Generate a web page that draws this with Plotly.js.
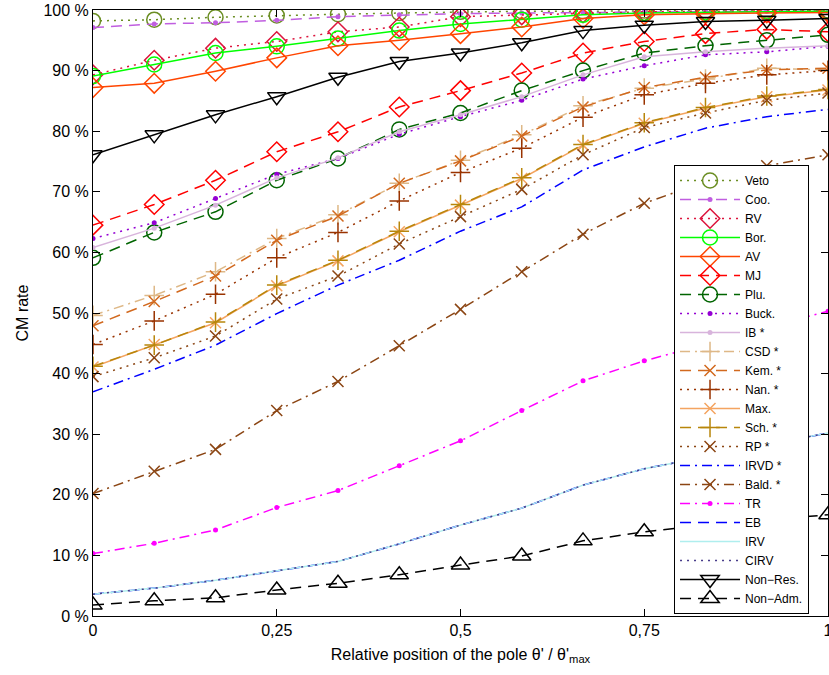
<!DOCTYPE html>
<html>
<head>
<meta charset="utf-8">
<script src="https://cdn.plot.ly/plotly-3.0.1.min.js"></script>
<style>html,body{margin:0;padding:0;background:#fff;}#chart{width:829px;height:675px;}</style>
</head>
<body>
<div id="chart"></div>
<script>
// Relative position of the pole (x positions)
const xPos = [0, 0.0833, 0.1667, 0.25, 0.3333, 0.4167, 0.5, 0.5833, 0.6667, 0.75, 0.8333, 0.9167, 1];

// CM rate (%) per voting system
const veto   = [98.2, 98.4, 98.8, 99.1, 99.3, 99.5, 99.7, 99.8, 99.8, 99.9, 99.9, 99.9, 99.9];
const coo    = [97.1, 97.7, 97.9, 98.3, 98.9, 99.2, 99.4, 99.5, 99.6, 99.7, 99.8, 99.8, 99.8];
const rv     = [89.3, 91.7, 93.7, 94.8, 96.4, 97.2, 98.9, 99.2, 99.5, 99.7, 99.8, 99.8, 99.9];
const bor    = [89.1, 91.0, 92.9, 94.0, 95.3, 96.6, 97.7, 98.4, 99.2, 99.5, 99.6, 99.7, 99.8];
const av     = [87.2, 87.9, 89.9, 92.1, 94.1, 95.0, 96.1, 97.2, 98.6, 99.2, 99.4, 99.5, 99.6];
const mj     = [64.5, 67.9, 71.9, 76.6, 79.9, 84.0, 86.7, 89.6, 92.9, 94.8, 96.1, 96.8, 96.4];
const plu    = [59.1, 63.3, 66.7, 71.9, 75.5, 80.3, 83.0, 86.7, 90.0, 92.9, 94.1, 95.0, 95.9];
const buck   = [62.3, 64.9, 68.9, 72.9, 75.5, 79.5, 82.4, 85.1, 88.6, 90.8, 92.6, 93.1, 94.0];
const ib     = [60.8, 64.0, 67.8, 72.3, 75.6, 79.9, 82.7, 85.7, 89.3, 92.3, 93.1, 93.7, 94.1];
const csd    = [49.6, 52.9, 56.8, 62.3, 66.2, 71.4, 75.2, 79.4, 84.2, 87.1, 88.6, 90.4, 90.1];
const kem    = [47.9, 51.9, 56.1, 62.0, 66.0, 71.4, 75.1, 79.2, 84.0, 87.2, 88.9, 90.1, 90.4];
const nan    = [44.8, 48.7, 53.1, 59.1, 63.3, 68.5, 73.2, 77.2, 82.3, 86.0, 87.9, 89.3, 90.0];
const maxi   = [41.1, 44.8, 48.4, 54.5, 58.6, 63.4, 67.8, 72.2, 77.7, 81.3, 83.8, 85.7, 86.8];
const sch    = [41.2, 44.7, 48.5, 54.6, 58.7, 63.5, 67.9, 72.3, 77.8, 81.4, 83.9, 85.8, 86.9];
const rp     = [39.5, 42.6, 46.2, 52.3, 56.1, 61.4, 65.9, 70.4, 76.1, 80.6, 83.0, 85.1, 86.3];
const irvd   = [37.0, 40.7, 44.7, 49.9, 54.6, 58.7, 63.5, 67.5, 73.6, 77.4, 80.5, 82.4, 83.6];
const bald   = [20.2, 23.9, 27.5, 33.9, 38.7, 44.6, 50.6, 56.8, 63.0, 68.1, 71.7, 74.3, 76.1];
const tr     = [10.3, 12.0, 14.2, 17.9, 20.7, 24.8, 28.9, 33.9, 38.8, 42.1, 44.9, 47.6, 50.3];
const eb     = [3.6, 4.6, 5.9, 7.5, 9.0, 11.9, 15.0, 17.8, 21.6, 24.3, 26.3, 28.3, 30.2];
const irv    = [3.6, 4.6, 5.9, 7.5, 9.0, 11.9, 15.0, 17.8, 21.6, 24.3, 26.3, 28.3, 30.2];
const cirv   = [3.6, 4.6, 5.9, 7.5, 9.0, 11.9, 15.0, 17.8, 21.6, 24.3, 26.3, 28.3, 30.2];
const nonRes = [76.1, 79.4, 82.7, 85.7, 88.9, 91.5, 92.9, 94.6, 96.6, 97.5, 98.1, 98.3, 98.6];
const nonAdm = [1.8, 2.5, 3.0, 4.3, 5.4, 6.8, 8.4, 9.9, 12.4, 13.9, 15.0, 15.8, 16.7];

const yTickVals = [0, 10, 20, 30, 40, 50, 60, 70, 80, 90, 100];
const yTickText = ["0 %", "10 %", "20 %", "30 %", "40 %", "50 %", "60 %", "70 %", "80 %", "90 %", "100 %"];
const xTickVals = [0, 0.25, 0.5, 0.75, 1];
const xTickText = ["0", "0,25", "0,5", "0,75", "1"];

const DOT = "2px,5px", DASH = "11px,7px", DASHDOT = "10px,5px,2px,5px";

function tr_(name, y, color, dash, symbol, msize) {
  const t = {
    type: "scatter", x: xPos, y: y, name: name,
    line: {color: color, width: 1.5, dash: dash},
    mode: symbol ? "lines+markers" : "lines"
  };
  if (symbol) {
    const filled = (symbol === "circle");
    t.marker = {symbol: symbol, size: msize, color: color, line: {color: color, width: filled ? 0 : 1.5}};
  }
  return t;
}

const data = [
  tr_("Veto", veto, "#6b8e23", DOT, "circle-open", 15),
  tr_("Coo.", coo, "#c05ee0", DASH, "circle", 5),
  tr_("RV", rv, "#dc143c", DOT, "diamond-open", 15),
  tr_("Bor.", bor, "#00ff00", "solid", "circle-open", 15),
  tr_("AV", av, "#ff4500", "solid", "diamond-open", 15),
  tr_("MJ", mj, "#ff0000", DASH, "diamond-open", 15),
  tr_("Plu.", plu, "#006400", DASH, "circle-open", 15),
  tr_("Buck.", buck, "#9400d3", DOT, "circle", 5),
  tr_("IB *", ib, "#d8b4dc", "solid", "circle", 5),
  tr_("CSD *", csd, "#deb887", DASHDOT, "cross-thin-open", 14),
  tr_("Kem. *", kem, "#d2691e", DASH, "x-thin-open", 11),
  tr_("Nan. *", nan, "#993300", DOT, "cross-thin-open", 14),
  tr_("Max.", maxi, "#f4a460", "solid", "x-thin-open", 11),
  tr_("Sch. *", sch, "#b8860b", DASH, "cross-thin-open", 14),
  tr_("RP *", rp, "#8b4513", DOT, "x-thin-open", 11),
  tr_("IRVD *", irvd, "#0000ff", DASHDOT, null, 0),
  tr_("Bald. *", bald, "#8b4513", DASHDOT, "x-thin-open", 11),
  tr_("TR", tr, "#ff00ff", DASHDOT, "circle", 5),
  tr_("EB", eb, "#0000ff", DASH, null, 0),
  tr_("IRV", irv, "#afeeee", "solid", null, 0),
  tr_("CIRV", cirv, "#483d8b", DOT, null, 0),
  tr_("Non\u2212Res.", nonRes, "#000000", "solid", "triangle-down-open", 16),
  tr_("Non\u2212Adm.", nonAdm, "#000000", DASH, "triangle-up-open", 16)
];

const FONT = "Liberation Sans, Arial, Helvetica, sans-serif";

const layout = {
  width: 829, height: 675,
  margin: {l: 93, r: 1, t: 10, b: 59, pad: 0},
  paper_bgcolor: "#ffffff", plot_bgcolor: "#ffffff",
  font: {family: FONT, size: 16, color: "#000"},
  showlegend: true,
  legend: {
    x: 0.7905, y: 0.0033, xanchor: "left", yanchor: "bottom",
    bgcolor: "#ffffff", bordercolor: "#000000", borderwidth: 1,
    font: {family: FONT, size: 12, color: "#000"},
    itemwidth: 60, tracegroupgap: 0,
    entrywidth: 110, entrywidthmode: "pixels"
  },
  xaxis: {
    range: [0, 1], tickvals: xTickVals, ticktext: xTickText,
    ticks: "inside", ticklen: 7, tickcolor: "#000", tickwidth: 1,
    showline: true, linecolor: "#000", linewidth: 1, mirror: "ticks",
    showgrid: false, zeroline: false, ticklabeloverflow: "allow",
    tickfont: {family: FONT, size: 16, color: "#000"},
    title: {text: "Relative position of the pole \u03b8' / \u03b8'<sub>max</sub>", font: {family: FONT, size: 16, color: "#000"}, standoff: 10},
    automargin: false
  },
  yaxis: {
    range: [0, 100], tickvals: yTickVals, ticktext: yTickText,
    ticks: "inside", ticklen: 7, tickcolor: "#000", tickwidth: 1,
    showline: true, linecolor: "#000", linewidth: 1, mirror: "ticks",
    showgrid: false, zeroline: false, ticklabeloverflow: "allow",
    tickfont: {family: FONT, size: 16, color: "#000"},
    title: {text: "CM rate", font: {family: FONT, size: 16, color: "#000"}, standoff: 10},
    automargin: false
  }
};

Plotly.newPlot("chart", data, layout, {displayModeBar: false, staticPlot: true});
</script>
</body>
</html>
